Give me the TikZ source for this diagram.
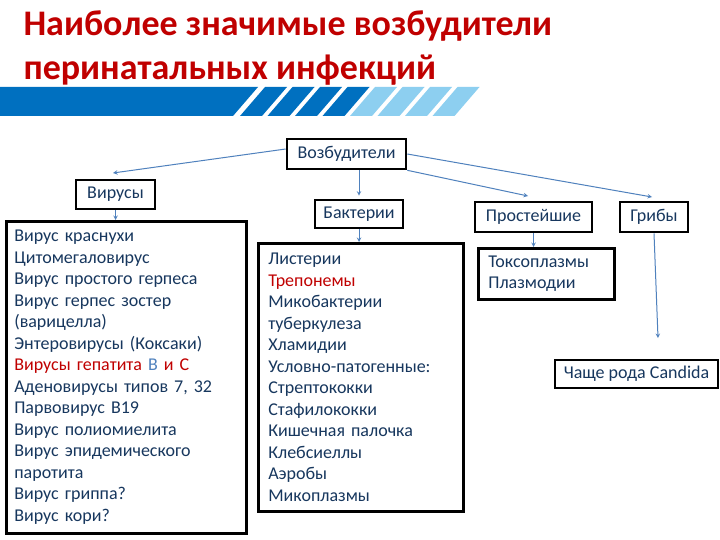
\documentclass[tikz,border=0pt]{standalone}
\usepackage{fontspec}
\setmainfont{Carlito}
\usetikzlibrary{positioning}

\definecolor{titlered}{HTML}{C00000}
\definecolor{barblue}{HTML}{0070C0}
\definecolor{barlight}{HTML}{8DCFF0}
\definecolor{textnavy}{HTML}{17375E}
\definecolor{linkblue}{HTML}{4F81BD}

\begin{document}
\begin{tikzpicture}[
    x=1pt, y=-1pt,
    hdr/.style={draw=black, line width=2.6pt, fill=white, text=textnavy,
        font=\fontsize{18}{21}\selectfont, inner sep=0pt},
    listbox/.style={draw=black, line width=2.6pt, fill=white, text=textnavy,
        font=\fontsize{18}{21.5}\selectfont, align=left, anchor=north west,
        inner xsep=8pt, inner ysep=0pt},
    link/.style={linkblue, line width=1pt, ->, >=stealth},
]
\useasboundingbox[fill=white] (0,0) rectangle (720,540);

% Title
\node[anchor=base west, text=titlered, font=\fontsize{36}{40}\selectfont\bfseries]
    (title1) at (20,36) {Наиболее значимые возбудители};
\node[anchor=base west, text=titlered, font=\fontsize{36}{40}\selectfont\bfseries]
    (title2) at (20,80) {перинатальных инфекций};

% Bar under the title
\fill[barblue] (0,87) -- (258,87) -- (233,116) -- (0,116) -- cycle;
\foreach \i in {0,...,3} {
    \fill[barblue] ({265+27.5*\i},87) -- ({287+27.5*\i},87)
        -- ({262+27.5*\i},116) -- ({240+27.5*\i},116) -- cycle;
}
\foreach \i in {4,...,7} {
    \fill[barlight] ({265+27.5*\i},87) -- ({287+27.5*\i},87)
        -- ({262+27.5*\i},116) -- ({240+27.5*\i},116) -- cycle;
}

% Group boxes
\node[hdr, minimum width=119, minimum height=30] (vozb) at (346.5,154) {Возбудители};
\node[hdr, minimum width=79, minimum height=29] (vir) at (115.5,194.5) {Вирусы};
\node[hdr, minimum width=88, minimum height=28] (bact) at (359,214) {Бактерии};
\node[hdr, minimum width=117, minimum height=30] (prost) at (533.5,217) {Простейшие};
\node[hdr, minimum width=68, minimum height=30] (grib) at (654,217) {Грибы};

% Lists
\node[listbox, text width=224, minimum height=312] (virlist) at (5,220) {%
    Вирус краснухи\\
    Цитомегаловирус\\
    Вирус простого герпеса\\
    Вирус герпес зостер\\
    (варицелла)\\
    Энтеровирусы (Коксаки)\\
    \textcolor{titlered}{Вирусы гепатита \textcolor{linkblue}{B} и C}\\
    Аденовирусы типов 7, 32\\
    Парвовирус B19\\
    Вирус полиомиелита\\
    Вирус эпидемического\\
    паротита\\
    Вирус гриппа?\\
    Вирус кори?};
\node[listbox, inner xsep=10pt, text width=185, minimum height=268] (bactlist) at (257,242) {%
    Листерии\\
    \textcolor{titlered}{Трепонемы}\\
    Микобактерии\\
    туберкулеза\\
    Хламидии\\
    Условно-патогенные:\\
    Стрептококки\\
    Стафилококки\\
    Кишечная палочка\\
    Клебсиеллы\\
    Аэробы\\
    Микоплазмы};
\node[listbox, inner xsep=10pt, text width=116, minimum height=51] (toxolist) at (477,247) {%
    Токсоплазмы\\
    Плазмодии};
\node[hdr, line width=2pt, minimum width=163, minimum height=28] (cand) at (636.5,374) {Чаще рода Candida};

% Connectors
\coordinate (virtip) at (113,173);
\coordinate (prosttip) at (528,196);
\coordinate (gribtip) at (652,197);
\coordinate (candtip) at (658,338);
\draw[link] ([yshift=5pt]vozb.west) -- (virtip);
\draw[link] (vir.south) -- (vir.south |- virlist.north);
\draw[link, shorten >=3pt] (bact.north |- vozb.south) -- (bact.north);
\draw[link] (bact.south) -- (bact.south |- bactlist.north);
\draw[link] (vozb.south east) -- (prosttip);
\draw[link] (vozb.east) -- (gribtip);
\draw[link] (prost.south) -- (prost.south |- toxolist.north);
\draw[link] (grib.south) -- (candtip);

\end{tikzpicture}
\end{document}
